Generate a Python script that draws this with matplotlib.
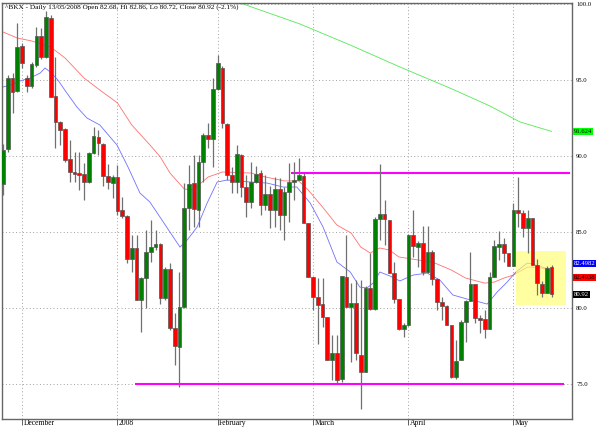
import pandas as pd
import matplotlib
matplotlib.use("Agg")
import matplotlib.pyplot as plt
import matplotlib.transforms as mtransforms
from matplotlib.patches import Rectangle

# trading days 27 Nov 2007 .. 13 May 2008
holidays = ['2007-12-25', '2008-01-01', '2008-01-21', '2008-02-18', '2008-03-21']
dates = pd.bdate_range('2007-11-27', '2008-05-13', freq='C', holidays=holidays)

opens = [88.16, 90.46, 95.13, 94.28, 97.24, 95.13, 94.61, 95.99, 97.89, 96.51,
         99.08, 93.95, 92.24, 91.78, 89.80, 88.95, 88.88, 88.82, 88.29, 90.20,
         91.25, 90.79, 88.68, 88.22, 88.62, 86.45, 86.05, 83.22, 83.95, 80.53,
         81.97, 83.68, 84.01, 84.21, 80.66, 82.57, 78.68, 77.43, 80.07, 86.58,
         88.22, 86.45, 89.61, 91.38, 91.12, 94.41, 95.79, 92.11, 88.75, 88.29,
         90.07, 87.96, 86.97, 88.29, 88.88, 86.78, 87.50, 86.45, 87.83, 86.12,
         87.63, 88.29, 88.42, 88.68, 85.59, 82.04, 80.72, 80.26, 79.41, 76.58,
         77.04, 75.33, 82.04, 80.07, 80.33, 76.91, 75.79, 81.32, 79.93, 85.86,
         86.18, 85.79, 82.30, 80.59, 78.62, 78.88, 84.80, 84.01, 84.28, 82.37,
         83.68, 81.91, 80.39, 80.13, 78.88, 75.46, 76.58, 79.08, 80.46, 81.58,
         79.34, 79.28, 78.62, 82.04, 84.01, 84.21, 83.62, 82.76, 86.45, 86.25,
         85.26, 85.92, 82.83, 81.58, 80.99, 82.68]
closes = [90.39, 95.13, 94.21, 97.17, 96.12, 94.61, 96.05, 97.89, 96.51, 99.14,
          93.88, 92.24, 91.71, 89.74, 88.95, 88.82, 88.75, 88.29, 90.20, 91.32,
          90.86, 88.68, 88.29, 88.62, 86.38, 86.05, 83.22, 83.95, 80.53, 81.97,
          83.68, 84.01, 84.21, 80.66, 82.57, 78.68, 77.50, 80.07, 86.58, 88.16,
          86.51, 89.61, 91.38, 91.12, 94.41, 96.12, 92.17, 88.75, 88.29, 90.13,
          87.96, 86.97, 88.29, 88.82, 86.78, 87.50, 86.45, 87.83, 86.12, 87.63,
          88.29, 88.42, 88.75, 85.59, 82.04, 80.72, 80.20, 79.41, 76.58, 77.04,
          75.26, 82.11, 80.07, 80.33, 77.04, 75.79, 81.32, 79.93, 85.86, 86.18,
          85.86, 82.30, 80.59, 78.62, 78.88, 84.80, 84.08, 84.28, 82.37, 83.68,
          81.91, 80.39, 80.13, 78.88, 75.46, 76.51, 79.08, 80.46, 81.58, 79.34,
          79.21, 78.62, 82.04, 84.08, 84.21, 83.62, 82.76, 86.45, 86.25, 85.26,
          85.92, 82.83, 81.64, 80.99, 82.63, 80.92]
highs = [90.79, 95.33, 95.46, 98.75, 97.43, 95.33, 96.18, 98.49, 98.42, 99.54,
         99.28, 96.51, 92.30, 91.84, 91.05, 90.26, 90.26, 89.54, 90.26, 91.91,
         91.71, 90.86, 89.47, 88.75, 89.41, 87.30, 86.12, 84.80, 84.80, 82.04,
         85.13, 85.79, 85.13, 84.28, 82.70, 82.96, 79.67, 82.37, 88.22, 89.41,
         90.07, 90.07, 91.51, 92.17, 95.13, 96.64, 95.92, 92.17, 89.28, 90.72,
         90.13, 88.75, 89.61, 89.34, 89.08, 88.75, 88.03, 88.62, 88.55, 87.96,
         89.54, 89.61, 89.87, 88.88, 85.59, 82.04, 81.97, 81.97, 79.41, 78.22,
         78.22, 82.11, 84.80, 81.64, 81.84, 81.84, 81.45, 83.62, 85.99, 89.47,
         87.11, 85.79, 83.03, 80.59, 79.01, 84.87, 86.45, 84.41, 85.39, 85.39,
         83.82, 81.97, 80.72, 80.20, 78.88, 77.89, 79.21, 80.53, 83.68, 81.58,
         79.54, 79.87, 82.37, 84.47, 85.07, 84.61, 83.62, 86.91, 88.62, 86.45,
         86.45, 85.92, 83.22, 81.78, 82.76, 82.86]
lows = [87.43, 90.26, 92.83, 94.21, 95.79, 94.21, 94.47, 95.86, 96.38, 96.45,
        93.88, 90.53, 90.72, 89.61, 88.29, 88.29, 87.76, 87.11, 88.22, 90.13,
        90.07, 88.03, 87.83, 87.24, 86.12, 85.92, 82.96, 82.37, 80.53, 78.42,
        80.00, 83.03, 83.82, 80.26, 80.53, 78.55, 76.25, 74.80, 80.00, 85.13,
        85.33, 85.33, 88.29, 90.53, 89.28, 94.34, 91.84, 88.42, 87.57, 87.57,
        87.30, 85.99, 86.58, 88.22, 86.12, 86.45, 85.26, 85.33, 85.13, 84.47,
        85.66, 87.11, 88.42, 85.59, 82.04, 79.87, 77.63, 78.75, 76.58, 75.26,
        75.07, 75.13, 80.07, 76.45, 76.58, 73.36, 75.79, 79.87, 79.87, 84.47,
        84.14, 82.30, 80.33, 78.55, 78.09, 78.82, 83.36, 82.70, 82.17, 82.30,
        81.51, 79.87, 79.21, 78.88, 75.39, 75.33, 76.58, 77.76, 80.46, 79.01,
        78.36, 78.03, 78.62, 82.04, 83.16, 83.03, 82.76, 82.76, 85.33, 84.67,
        83.62, 82.83, 80.86, 80.72, 80.99, 80.72]

# moving averages (day index, value)
red_idx = [0, 3, 6, 10, 13, 17, 20, 24, 27, 31, 33, 35, 38, 40, 41, 43, 46, 52, 55, 59,
           62, 64, 67, 70, 73, 75, 77, 79, 81, 83, 87, 90, 94, 97, 101, 103, 105, 107, 110, 113, 115]
red_val = [98.16, 97.76, 97.57, 97.17, 96.45, 95.13, 94.41, 93.49, 92.04, 90.66,
           89.93, 88.88, 87.83, 87.76, 88.09, 88.62, 88.95, 88.88, 88.62, 88.36,
           88.36, 87.76, 86.64, 85.46, 84.93, 84.01, 83.62, 83.95, 83.82, 83.36,
           83.16, 83.03, 82.50, 81.97, 81.64, 81.71, 81.97, 82.17, 82.70, 82.63, 82.49]
blue_idx = [0, 1.5, 3.5, 5.7, 7.8, 8.8, 9.9, 11.5, 13.4, 15.5, 17.6, 20.3, 23.9, 26.2, 28.7,
            30.8, 32.9, 35, 37.1, 38.6, 40.7, 42.8, 44.9, 47, 51.8, 55.4, 58.7, 61.6, 64.4,
            67.1, 70, 72.8, 74.8, 76.3, 77.6, 79, 81.1, 83.2, 86, 88.9, 91.6, 94.3, 97.3,
            100, 101.5, 103.6, 105.7, 107.3, 109.9, 111.1, 115]
blue_val = [94.54, 94.67, 94.93, 95.13, 95.46, 95.79, 95.53, 95.00, 94.14, 93.22,
            92.50, 92.04, 90.72, 89.28, 87.57, 86.97, 85.99, 85.00, 84.01, 84.47,
            85.33, 86.91, 88.29, 88.42, 88.29, 88.22, 87.96, 87.96, 86.91, 85.33,
            83.03, 82.37, 81.38, 81.32, 81.64, 82.37, 82.11, 81.78, 82.17, 82.30,
            81.84, 80.86, 80.59, 80.39, 80.26, 81.05, 81.71, 82.30, 82.96, 82.89, 82.50]
green_idx = [49.7, 62.3, 72.8, 83.2, 93.7, 102.1, 108.4, 115]
green_val = [100.07, 98.68, 97.30, 95.86, 94.47, 93.29, 92.24, 91.62]

# support / resistance
levels = [88.88, 75.0]
level_from = [60.4, 27.7]
level_to = [118.9, 117.6]

# highlight
box_x = [107.5, 118.0]
box_y = [80.2, 83.75]

title = "^BKX - Daily 13/05/2008 Open 82.68, Hi 82.86, Lo 80.72, Close 80.92 (-2.1%)"
value_tags = [("91.624", 91.624, "#00ff00", "black", 0),
              ("82.4982", 82.4982, "#0000ff", "white", 5),
              ("82.4938", 82.4938, "#ff0000", "black", -5),
              ("80.92", 80.92, "black", "white", 0)]

serif = "Liberation Serif"

fig = plt.figure(figsize=(6, 4.28), dpi=100)
ax = fig.add_axes([2 / 600, 1 - 419 / 428, 570 / 600, 416 / 428])
ax.set_xlim(-0.21, 119.29)
ax.set_ylim(72.7, 100.066)

# grid
ax.set_yticks([75, 80, 85, 90, 95, 100])
ax.set_yticklabels(["75.0", "80.0", "85.0", "90.0", "95.0", "100.0"])
ax.yaxis.tick_right()
ax.tick_params(axis='y', length=0, pad=3, labelsize=4.8, colors='black')
for lab in ax.get_yticklabels():
    lab.set_family(serif)

# first trading day of each month; January is labelled with the year
month_pos = [k for k in range(1, len(dates)) if dates[k].month != dates[k - 1].month]
month_lab = ["2008" if dates[k].month == 1 else dates[k].strftime("%B") for k in month_pos]
ax.set_xticks(month_pos)
ax.set_xticklabels(month_lab, ha='left')
ax.tick_params(axis='x', length=4, width=0.6, pad=-4.2, labelsize=5.5, direction='out',
               colors='#444444', labelcolor='black')
shift = mtransforms.ScaledTranslation(1.5 / 100, 0, fig.dpi_scale_trans)
for lab in ax.get_xticklabels():
    lab.set_family(serif)
    lab.set_transform(lab.get_transform() + shift)

ax.grid(True, color='#a0a0a0', linestyle=(0, (1, 2.5)), linewidth=0.7, zorder=0)
ax.set_axisbelow(True)
for s in ax.spines.values():
    s.set_color('#666666')
    s.set_linewidth(1)

# moving averages
ax.plot(red_idx, red_val, color='#ff7070', lw=0.6, zorder=1)
ax.plot(blue_idx, blue_val, color='#7070ff', lw=0.6, zorder=1)
ax.plot(green_idx, green_val, color='#55e855', lw=0.6, zorder=1)

# highlight box
ax.add_patch(Rectangle((box_x[0], box_y[0]), box_x[1] - box_x[0], box_y[1] - box_y[0],
                       facecolor='#ffff70', edgecolor='none', alpha=0.65, zorder=2))

# levels
for lv, a, b in zip(levels, level_from, level_to):
    ax.hlines(lv, a, b, color='#ff00ff', lw=1.5, zorder=2.5)

# candles
idx = list(range(len(opens)))
ax.vlines(idx, lows, highs, color='#707070', lw=0.9, zorder=3)
colors = ['#008000' if c >= o else '#ff0000' for o, c in zip(opens, closes)]
ax.bar(idx, [c - o for o, c in zip(opens, closes)], bottom=opens, width=0.78,
       color=colors, edgecolor='#555555', linewidth=0.5, zorder=4)

ax.text(0.006, 0.997, title, transform=ax.transAxes, ha='left', va='top',
        fontsize=5.2, family=serif, zorder=6)

# right-hand value tags
trans = mtransforms.blended_transform_factory(ax.transAxes, ax.transData)
for txt, val, bg, fg, off in value_tags:
    ax.annotate(txt, xy=(1.003, val), xycoords=trans, xytext=(0, off),
                textcoords='offset points', ha='left', va='center', fontsize=4.8,
                family=serif, color=fg, annotation_clip=False,
                bbox=dict(boxstyle='square,pad=0.15', facecolor=bg, edgecolor='none'))

fig.savefig("out.png", dpi=100)
